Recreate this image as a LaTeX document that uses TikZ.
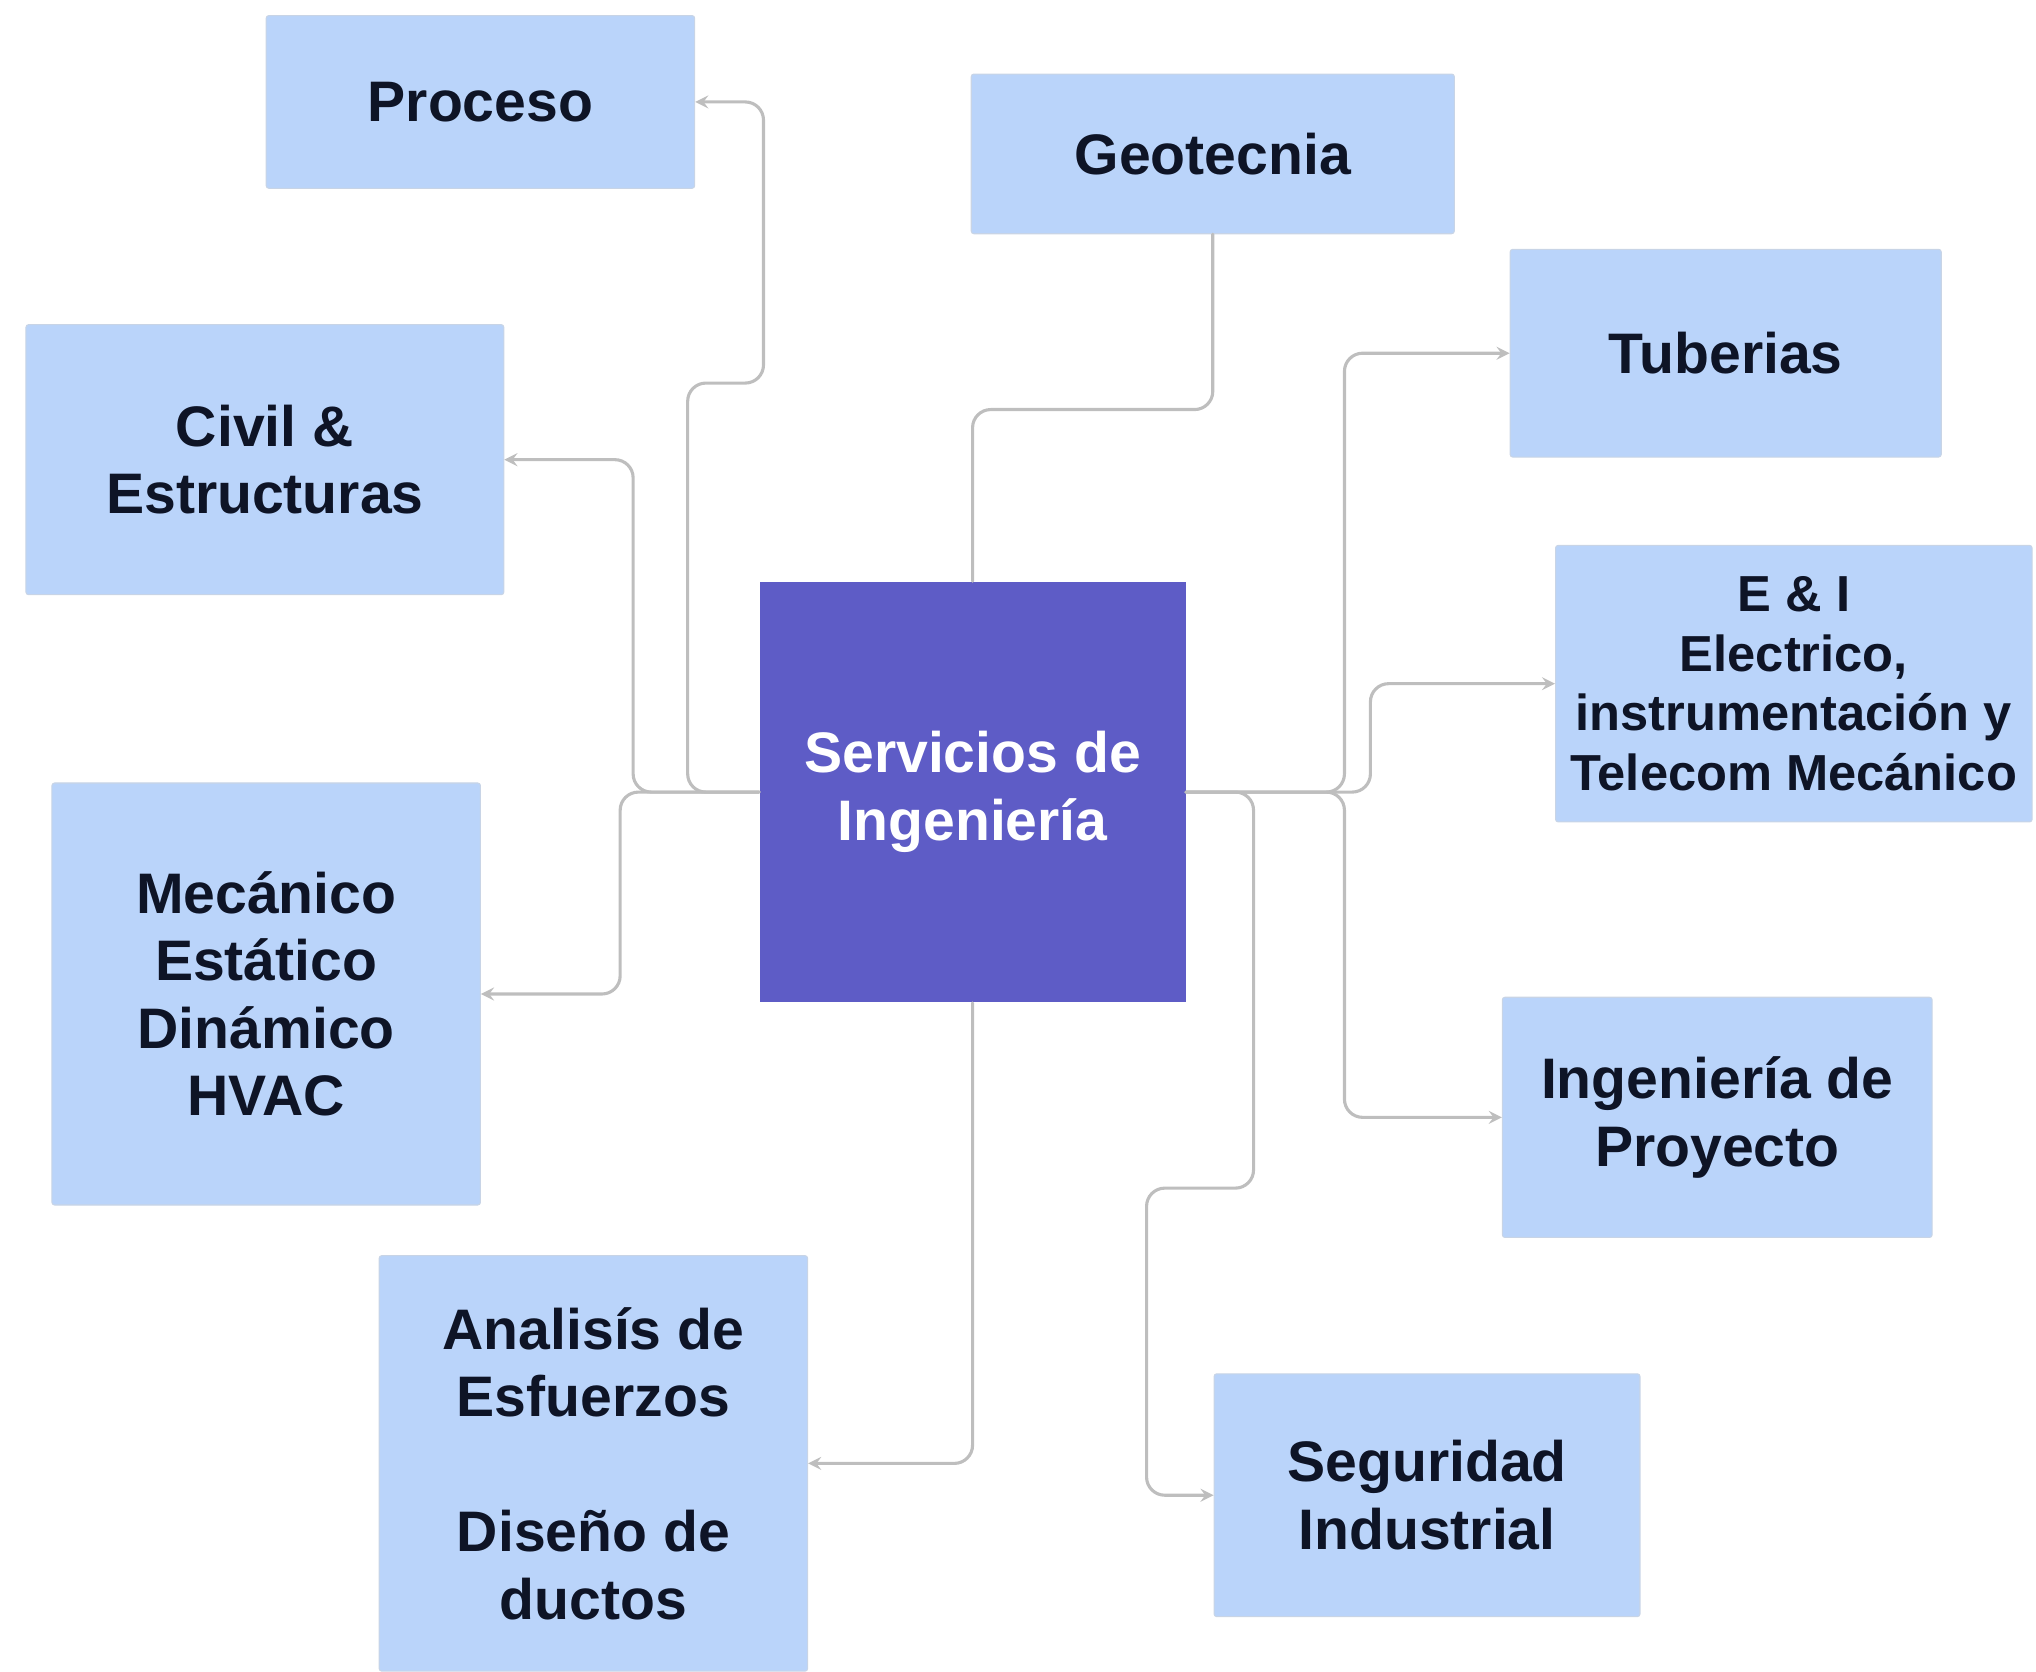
\documentclass[tikz,border=0pt]{standalone}
\usepackage{fontspec}
\setmainfont{Liberation Sans}
\definecolor{boxblue}{RGB}{186,212,250}
\definecolor{boxedge}{RGB}{200,212,230}
\definecolor{mainblue}{RGB}{94,92,198}
\definecolor{textdark}{RGB}{14,20,38}
\definecolor{linkgray}{RGB}{190,190,190}
\begin{document}
\begin{tikzpicture}[x=0.5pt,y=-0.5pt,line join=round,line cap=round,>=stealth,font=\bfseries\fontsize{22}{26}\selectfont]
		\tikzset{box style/.style={fill=boxblue,draw=boxedge,rounded corners=1pt,text=textdark,align=center,inner sep=0pt},
		link style/.style={draw=linkgray,line width=1.2pt,rounded corners=7pt}}
		\useasboundingbox (0,0) rectangle (1568,1287);
		\node[fill=mainblue,text=white,align=center,minimum width=164pt,minimum height=162pt] (srv) at (749,610) {Servicios de\\Ingeniería};
		\node[box style,minimum width=165pt,minimum height=66.5pt] (proc) at (370,78.5) {Proceso};
		\node[box style,minimum width=186pt,minimum height=61.5pt] (geo) at (934,118.5) {Geotecnia};
		\node[box style,minimum width=166pt,minimum height=80pt] (tub) at (1329,272) {Tuberias};
		\node[box style,minimum width=184pt,minimum height=104pt] (civ) at (204,354) {Civil \&\\Estructuras};
		\node[box style,minimum width=183.5pt,minimum height=106.5pt,font=\bfseries\fontsize{19.5}{23}\selectfont] (ei) at (1381.5,526.5) {E \& I\\Electrico,\\instrumentación y\\Telecom Mecánico};
		\node[box style,minimum width=165pt,minimum height=162.5pt] (mec) at (205,765.5) {Mecánico\\Estático\\Dinámico\\HVAC};
		\node[box style,minimum width=165pt,minimum height=160pt] (ana) at (457,1127) {Analisís de\\Esfuerzos\\[26pt]Diseño de\\ductos};
		\node[box style,minimum width=165.5pt,minimum height=92.5pt] (proy) at (1322.5,860.5) {Ingeniería de\\Proyecto};
		\node[box style,minimum width=164pt,minimum height=93.5pt] (seg) at (1099,1151.5) {Seguridad\\Industrial};
		% left side
		\draw[link style,->] (srv.west) -- ++(-55,0) |- (588,295) |- (proc.east);
		\draw[link style,->] (srv.west) -- ++(-97,0) |- (civ.east);
		\draw[link style,->] (srv.west) -- ++(-107,0) |- (mec.east);
		% top and bottom
		\draw[link style] (geo.south) -- ++(0,135) -| (srv.north);
		\draw[link style,->] (srv.south) |- (ana.east);
		% right side
		\draw[link style,->] (srv.east) -- ++(122,0) |- (tub.west);
		\draw[link style,->] (srv.east) -- ++(142,0) |- (ei.west);
		\draw[link style,->] (srv.east) -- ++(122,0) |- (proy.west);
		\draw[link style,->] (srv.east) -- ++(52,0) |- (883,915) |- (seg.west);
\end{tikzpicture}
\end{document}
